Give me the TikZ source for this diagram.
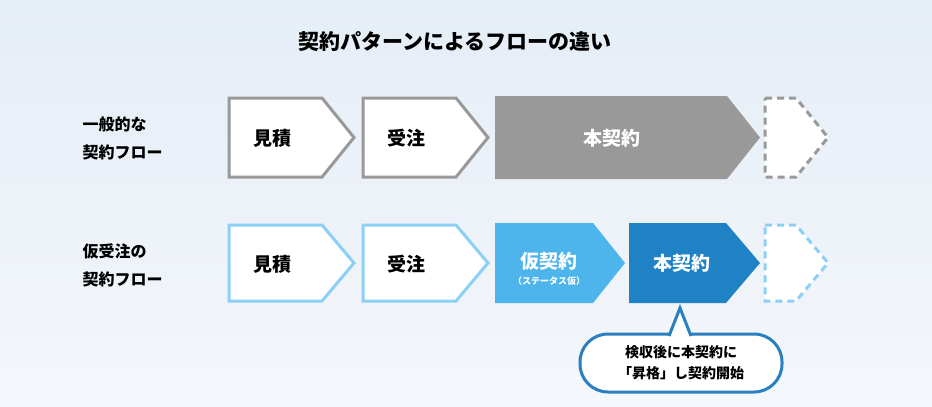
\documentclass[tikz,border=0pt]{standalone}
\usepackage{fontspec}
\setmainfont{Noto Sans CJK JP}
\begin{document}
\begin{tikzpicture}[x=1pt,y=-1pt,
  lbl/.style={font=\fontsize{19}{22}\selectfont\bfseries},
  side/.style={font=\fontsize{16}{28}\selectfont\bfseries,align=left,anchor=west},
  wh/.style={font=\fontsize{19}{22}\selectfont\bfseries,text=white}]
\definecolor{bgA}{HTML}{E5EDF6}\definecolor{bgB}{HTML}{F4F7FB}
\definecolor{gr}{HTML}{999999}\definecolor{lb}{HTML}{8CD0F6}
\definecolor{mb}{HTML}{4DB4EC}\definecolor{db}{HTML}{1E82C5}\definecolor{cb}{HTML}{2A7FC1}
\shade[top color=bgA,bottom color=bgB] (0,0) rectangle (932,407);
\useasboundingbox (0,0) rectangle (932,407);
\newcommand{\penta}[6]{\path[#6] (#1,#4)--(#3,#4)--(#2,{(#4+#5)/2})--(#3,#5)--(#1,#5)--cycle;}
\node[font=\fontsize{21}{24}\selectfont\bfseries] (title) at (455,42) {契約パターンによるフローの違い};
\node[side] (l1) at (79,138) {一般的な\\契約フロー};
\node[side] (l2) at (79,265) {仮受注の\\契約フロー};
% row 1
\penta{229}{354}{322}{98}{177}{draw=gr,line width=3pt,fill=white}
\penta{363}{488}{456}{98}{177}{draw=gr,line width=3pt,fill=white}
\penta{495}{760}{727}{96}{179}{fill=gr}
\penta{765}{828}{796}{98}{177}{draw=gr,line width=3pt,dash pattern=on 7pt off 5pt,fill=white}
\node[lbl] (a1) at (272,138) {見積};
\node[lbl] (a2) at (406,138) {受注};
\node[wh] (a3) at (612,138) {本契約};
% row 2
\penta{229}{354}{322}{225}{301}{draw=lb,line width=3pt,fill=white}
\penta{363}{488}{456}{225}{301}{draw=lb,line width=3pt,fill=white}
\penta{495}{625}{593}{223}{303}{fill=mb}
\penta{629}{760}{726}{223}{303}{fill=db}
\penta{765}{828}{796}{225}{301}{draw=lb,line width=3pt,dash pattern=on 7pt off 5pt,fill=white}
\node[lbl] (b1) at (272,264) {見積};
\node[lbl] (b2) at (406,264) {受注};
\node[wh] (b3) at (549,261) {仮契約};
\node[font=\fontsize{9}{10}\selectfont\bfseries,text=white] (b3s) at (549,281) {（ステータス仮）};
\node[wh] (b4) at (682,263) {本契約};
% callout
\draw[cb,line width=3pt,fill=white,rounded corners=28pt] (580,334) rectangle (782,392);
\draw[cb,line width=3pt,fill=white,line join=miter] (669,336)--(680,308)--(691,336);
\fill[white] (666,338) rectangle (694,344);
\node[font=\fontsize{14}{21}\selectfont\bfseries,align=center] (c) at (681,363) {検収後に本契約に\\「昇格」し契約開始};
\end{tikzpicture}
\end{document}
